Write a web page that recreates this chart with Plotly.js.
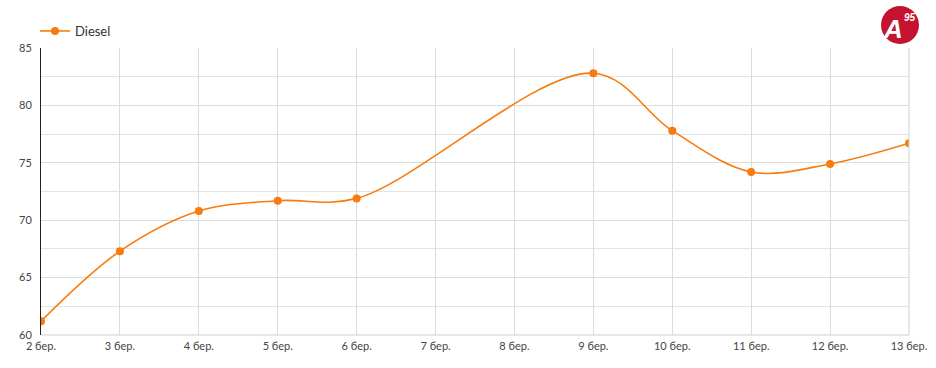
<!DOCTYPE html>
<html>
<head>
<meta charset="utf-8">
<script src="https://cdn.plot.ly/plotly-3.0.1.min.js"></script>
<style>html,body{margin:0;padding:0;background:#fff;}#chart{width:936px;height:368px;}</style>
</head>
<body>
<div id="chart"></div>
<script>
const categories = ["2 бер.","3 бер.","4 бер.","5 бер.","6 бер.","7 бер.","8 бер.","9 бер.","10 бер.","11 бер.","12 бер.","13 бер."];
const dieselValues = [61.2, 67.3, 70.8, 71.7, 71.9, null, null, 82.8, 77.8, 74.2, 74.9, 76.7];
const seriesName = "Diesel";
const yTickValues = [60, 65, 70, 75, 80, 85];

const trace = {
  x: categories,
  y: dieselValues,
  name: seriesName,
  type: "scatter",
  mode: "lines+markers",
  connectgaps: true,
  line: {color: "#f77b0f", width: 1.6, shape: "spline", smoothing: 1},
  marker: {color: "#f77b0f", size: 8},
  hoverinfo: "x+y"
};

const W = 936, H = 368, L = 41, R = 27, T = 48, B = 33;
const pw = W - L - R, ph = H - T - B;
const cx = 900, cy = 25, rad = 19;
const px = v => (v - L) / pw;
const py = v => (H - B - v) / ph;

const layout = {
  width: W, height: H,
  margin: {l: L, r: R, t: T, b: B, pad: 0},
  paper_bgcolor: "#fff", plot_bgcolor: "#fff",
  font: {family: "Lato, 'Open Sans', sans-serif", size: 11, color: "#444"},
  showlegend: true,
  legend: {x: px(35), y: py(31), xanchor: "left", yanchor: "middle", orientation: "h",
           font: {size: 13, color: "#333"}, bgcolor: "rgba(0,0,0,0)", itemwidth: 30},
  xaxis: {
    type: "category", range: [0, categories.length - 1],
    showgrid: true, gridcolor: "#dcdcdc", gridwidth: 1,
    showline: false, zeroline: false, ticks: "", ticklabelstandoff: 3,
    tickfont: {size: 11, color: "#444"}, fixedrange: true,
    mirror: false
  },
  yaxis: {
    range: [60, 85], tickvals: yTickValues, ticktext: yTickValues.map(String),
    showgrid: true, gridcolor: "#dcdcdc", gridwidth: 1,
    minor: {dtick: 2.5, tick0: 60, showgrid: true, gridcolor: "#e4e4e4", gridwidth: 1, ticks: ""},
    showline: true, linecolor: "#222", linewidth: 1,
    zeroline: false, ticks: "", ticklabelstandoff: 6,
    tickfont: {size: 11, color: "#444"}, fixedrange: true
  },
  shapes: [
    {type: "line", xref: "paper", yref: "paper", x0: 0, x1: 1, y0: 0, y1: 0,
     line: {color: "#d0d0d0", width: 1}},
    {type: "line", xref: "paper", yref: "paper", x0: 1, x1: 1, y0: 0, y1: 1,
     line: {color: "#d0d0d0", width: 1}},
    {type: "circle", xref: "paper", yref: "paper",
     x0: px(cx - rad), x1: px(cx + rad), y0: py(cy + rad), y1: py(cy - rad),
     fillcolor: "#c4122f", line: {width: 0}}
  ],
  annotations: [
    {xref: "paper", yref: "paper", x: px(893), y: py(29), text: "<b><i>A</i></b>",
     showarrow: false, borderpad: 0,
     font: {family: "Liberation Sans, Arial, sans-serif", size: 26, color: "#fff"},
     xanchor: "center", yanchor: "middle"},
    {xref: "paper", yref: "paper", x: px(910), y: py(17), text: "<b><i>95</i></b>",
     showarrow: false, borderpad: 0,
     font: {family: "Liberation Sans, Arial, sans-serif", size: 10, color: "#fff"},
     xanchor: "center", yanchor: "middle"}
  ]
};

Plotly.newPlot("chart", [trace], layout, {displayModeBar: false, staticPlot: true});
</script>
</body>
</html>
